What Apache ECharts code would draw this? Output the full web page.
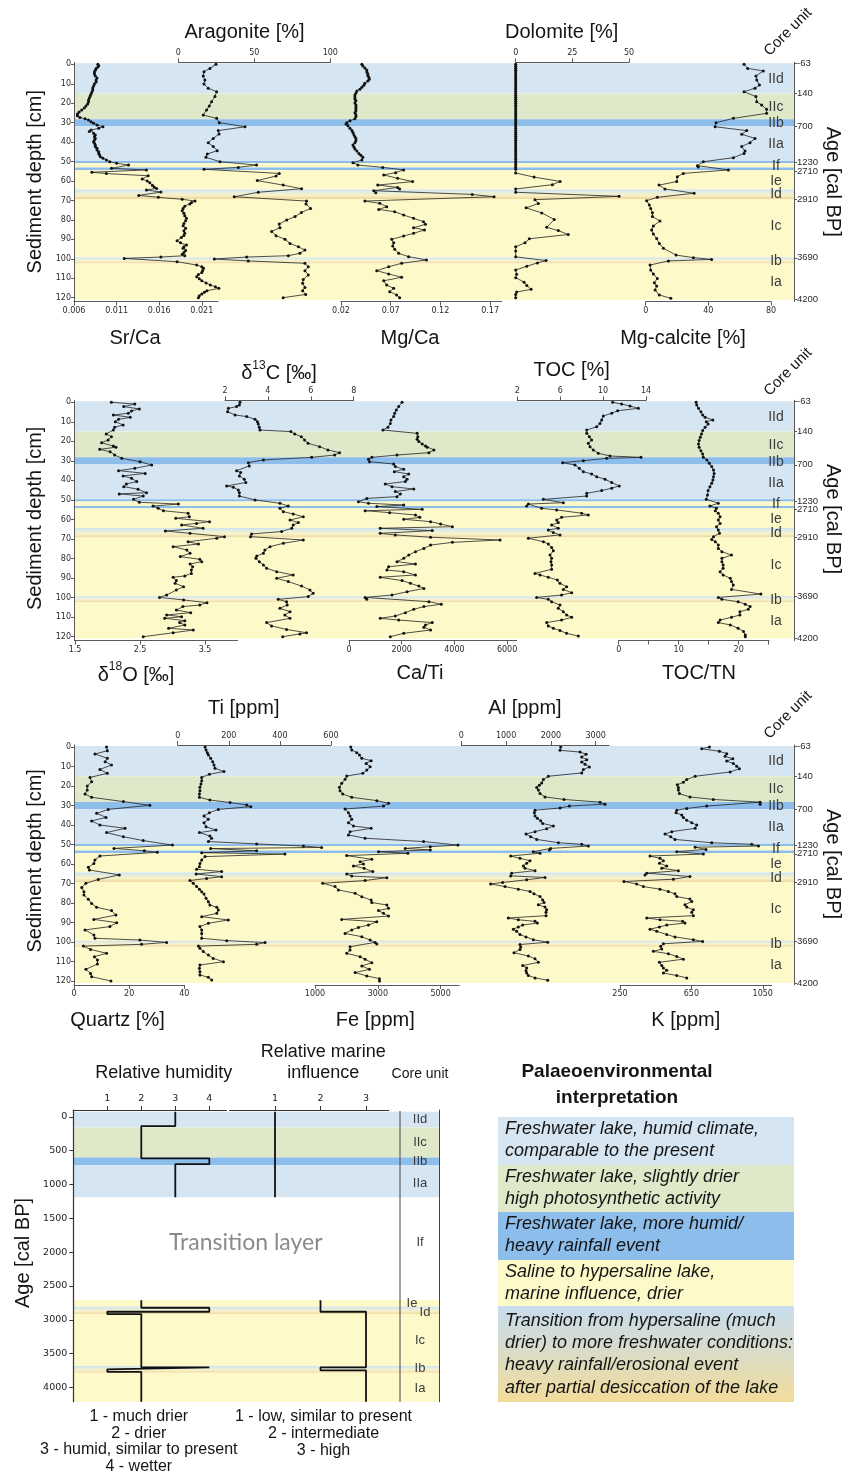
<!DOCTYPE html>
<html>
<head>
<meta charset="utf-8">
<script src="https://cdn.jsdelivr.net/npm/echarts@6/dist/echarts.min.js"></script>
<style>
  html, body { margin: 0; padding: 0; background: #fff; }
  #chart { width: 847px; height: 1475px; }
</style>
</head>
<body>
<div id="chart"></div>
<script>
// ---------- core profile data: [depth (cm), value] ----------
const srCa = [[0,0.0088],[0.7,0.0089],[1.4,0.0088],[2.2,0.0086],[3.1,0.0085],[3.9,0.0084],[5.0,0.0084],[6.0,0.0085],[7.0,0.0087],[8.1,0.0086],[9.1,0.0086],[10.1,0.0084],[11.2,0.0083],[12.2,0.0082],[13.2,0.0082],[14.2,0.0081],[15.3,0.0080],[16.3,0.0079],[17.3,0.0078],[18.3,0.0077],[19.4,0.0077],[20.4,0.0076],[21.4,0.0074],[22.5,0.0072],[23.5,0.0069],[24.5,0.0066],[25.5,0.0064],[26.4,0.0064],[27.3,0.0067],[28.0,0.0073],[28.6,0.0077],[29.5,0.0080],[30.3,0.0083],[31.2,0.0087],[32.1,0.0094],[32.9,0.0089],[33.8,0.0080],[34.6,0.0078],[35.5,0.0083],[36.3,0.0085],[37.2,0.0084],[38.1,0.0085],[38.9,0.0084],[39.8,0.0083],[40.6,0.0084],[41.5,0.0085],[42.3,0.0085],[43.2,0.0087],[44.1,0.0087],[44.9,0.0089],[45.8,0.0089],[46.6,0.0090],[47.5,0.0091],[48.3,0.0094],[49.2,0.0098],[50.1,0.0102],[50.9,0.0110],[51.8,0.0124],[53.5,0.0104],[54.3,0.0145],[55.5,0.0081],[56.2,0.0098],[57.3,0.0147],[59.0,0.0140],[60.0,0.0146],[60.9,0.0149],[62.2,0.0152],[63.1,0.0154],[63.8,0.0157],[64.6,0.0145],[65.7,0.0162],[67.4,0.0136],[68.4,0.0159],[69.4,0.0187],[70.3,0.0202],[71.0,0.0198],[71.8,0.0196],[73.0,0.0190],[74.1,0.0188],[75.3,0.0187],[76.6,0.0189],[77.9,0.0190],[79.2,0.0192],[80.5,0.0191],[81.8,0.0189],[83.0,0.0188],[84.3,0.0191],[85.6,0.0189],[86.9,0.0190],[88.0,0.0189],[89.0,0.0186],[90.7,0.0181],[91.8,0.0185],[92.9,0.0192],[93.8,0.0189],[94.6,0.0188],[95.7,0.0191],[96.7,0.0189],[97.6,0.0187],[98.4,0.0190],[99.1,0.0162],[99.8,0.0119],[101.5,0.0181],[103.2,0.0204],[104.1,0.0210],[104.9,0.0212],[106.0,0.0211],[107.1,0.0210],[108.1,0.0206],[109.2,0.0204],[110.2,0.0207],[111.3,0.0210],[112.4,0.0215],[113.5,0.0220],[114.4,0.0226],[115.2,0.0230],[116.4,0.0216],[117.2,0.0213],[118.1,0.0210],[119.0,0.0207],[120,0.0206]];

const aragonite = [[0,24.8],[2.1,20.8],[3.8,16.9],[6.0,16.4],[8.1,17.5],[10.1,16.9],[12.3,19.7],[14.1,25.2],[16.6,24.1],[19.2,21.9],[21.4,20.4],[23.5,18.6],[26.1,16.4],[27.8,25.2],[30.0,27.0],[32.1,43.9],[34.1,26.3],[35.8,26.8],[38.1,23.0],[40.3,19.7],[42.3,23.0],[44.4,25.6],[46.1,19.1],[47.8,18.2],[50.1,27.4],[51.8,51.5],[53.0,39.5],[54.0,16.9],[56.1,66.4],[57.4,64.3],[59.8,52.0],[62.1,69.0],[64.0,81.1],[65.8,52.6],[68.1,36.8],[70.3,84.4],[71.8,84.0],[74.1,87.0],[76.2,81.0],[78.3,76.8],[80.1,71.3],[82.1,66.4],[84.0,66.9],[85.9,61.4],[88.1,64.3],[90.0,70.2],[92.1,73.5],[93.8,79.0],[95.5,83.3],[97.2,80.0],[98.4,72.4],[99.1,45.0],[100.1,23.7],[101.1,46.0],[102.3,83.3],[104.1,85.5],[106.1,83.3],[108.3,85.5],[110.6,82.2],[112.6,81.8],[114.7,83.3],[116.4,81.8],[118.3,83.8],[120,69.0]];

const mgCa = [[0,0.041],[0.9,0.042],[1.9,0.044],[2.9,0.046],[3.9,0.046],[4.8,0.047],[5.8,0.047],[6.7,0.048],[7.7,0.0485],[8.6,0.047],[9.8,0.044],[10.8,0.043],[11.8,0.041],[12.8,0.039],[13.7,0.036],[14.7,0.035],[15.8,0.034],[16.8,0.034],[17.8,0.034],[18.8,0.035],[19.9,0.034],[20.9,0.035],[21.9,0.035],[22.9,0.035],[23.9,0.035],[24.9,0.034],[25.9,0.035],[26.9,0.035],[28.0,0.034],[29.0,0.029],[30.0,0.026],[30.7,0.025],[31.6,0.027],[32.9,0.029],[34.0,0.031],[35.1,0.032],[36.2,0.033],[37.2,0.034],[38.2,0.035],[39.3,0.035],[40.3,0.034],[41.5,0.032],[42.5,0.033],[43.5,0.034],[44.6,0.036],[45.8,0.038],[46.8,0.040],[47.8,0.042],[49.2,0.041],[50.6,0.032],[51.8,0.037],[53.0,0.062],[54.3,0.083],[55.7,0.075],[56.9,0.063],[58.6,0.077],[60.3,0.092],[62.1,0.057],[63.3,0.077],[64.1,0.079],[65.0,0.053],[66.0,0.055],[66.9,0.152],[68.1,0.174],[70.3,0.044],[71.5,0.059],[73.2,0.066],[74.6,0.058],[75.8,0.074],[77.5,0.083],[79.2,0.093],[80.9,0.103],[82.3,0.105],[84.0,0.093],[85.2,0.104],[86.9,0.093],[88.3,0.083],[90.0,0.071],[91.7,0.073],[93.4,0.072],[95.1,0.074],[97.2,0.078],[98.9,0.088],[100.6,0.106],[102.3,0.081],[104.1,0.068],[106.1,0.056],[107.8,0.068],[109.5,0.081],[111.3,0.063],[113.5,0.066],[115.2,0.073],[116.9,0.069],[118.6,0.076],[120,0.079]];

const dolomite = [[0,0],[1,0],[2,0],[3,0],[4,0],[5,0],[6,0],[7,0],[8,0],[9,0],[10,0],[11,0],[12,0],[13,0],[14,0],[15,0],[16,0],[17,0],[18,0],[19,0],[20,0],[21,0],[22,0],[23,0],[24,0],[25,0],[26,0],[27,0],[28,0],[29,0],[30,0],[31,0],[32,0],[33,0],[34,0],[35,0],[36,0],[37,0],[38,0],[39,0],[40,0],[41,0],[42,0],[43,0],[44,0],[45,0],[46,0],[47,0],[48,0],[49,0],[50,0],[51,0],[52,0],[53,0],[54,0],[55.9,0],[58.0,8.1],[60.2,19.6],[61.9,16.2],[64.1,0],[65.8,0],[67.9,45.6],[69.6,8.5],[71.6,10.0],[73.8,4.6],[76.4,11.5],[79.8,17.0],[83.8,13.7],[85.5,18.8],[87.5,23.2],[89.7,6.0],[91.8,4.1],[93.8,0],[96.0,0],[99.0,0],[100.9,13.4],[102.1,9.6],[103.8,4.9],[105.8,0],[108.0,0.4],[109.7,0],[112.0,3.7],[113.7,4.9],[115.7,6.8],[117.1,0.4],[118.3,0],[120,0]];

const mgCalcite = [[0,62.8],[2.1,65.1],[3.4,75.1],[6.0,70.4],[8.1,70.9],[10.6,72.6],[12.3,69.8],[14.1,62.8],[16.6,70.4],[19.2,70.9],[20.9,74.0],[23.1,77.2],[25.2,77.2],[27.8,56.0],[30.0,44.9],[32.1,44.3],[34.1,64.5],[36.0,61.3],[38.1,69.8],[40.3,66.6],[42.3,61.3],[44.6,63.4],[45.8,62.8],[48.0,56.0],[50.1,36.8],[52.1,33.0],[52.8,33.6],[54.3,52.8],[56.1,24.0],[57.8,20.2],[60.3,19.8],[62.1,8.5],[64.1,12.3],[66.3,30.9],[68.4,7.4],[70.1,0.6],[72.3,2.3],[74.1,3.2],[76.3,4.3],[78.3,4.3],[80.6,9.1],[83.1,4.9],[85.2,3.8],[87.3,4.9],[89.5,7.0],[92.1,8.7],[94.6,11.3],[98.1,19.4],[99.4,30.4],[100.3,42.1],[101.1,14.5],[103.2,2.8],[105.8,3.2],[107.8,4.9],[110.1,7.4],[112.3,5.5],[114.0,7.0],[116.0,6.0],[118.6,8.7],[120.3,16.0]];

const d18O = [[0,2.06],[0.9,2.42],[2.2,2.25],[3.4,2.49],[4.4,2.37],[5.6,2.32],[6.5,2.09],[7.7,2.35],[8.7,2.17],[9.9,2.12],[11.6,2.24],[12.8,2.11],[14.2,2.09],[16.2,1.98],[17.6,2.06],[19.3,2.01],[20.7,1.91],[22.4,2.09],[23.0,2.13],[24.1,1.88],[25.3,2.04],[27.0,2.11],[28.7,2.22],[30.4,2.50],[32.1,2.68],[33.8,2.42],[35.0,2.17],[36.4,2.58],[37.7,2.24],[38.9,2.37],[40.6,2.45],[41.8,2.29],[43.2,2.25],[44.5,2.47],[46.3,2.60],[46.9,2.18],[48.0,2.55],[49.7,2.40],[51.2,2.49],[52.1,3.09],[53.1,2.70],[54.3,2.78],[55.5,2.86],[56.8,3.24],[58.6,3.26],[59.4,3.05],[61.1,3.57],[62.0,3.37],[62.8,3.14],[64.5,3.47],[65.9,2.89],[67.1,3.27],[68.8,3.80],[69.6,3.68],[71.4,3.24],[72.6,3.40],[73.9,3.01],[75.6,3.22],[77.3,3.27],[79.0,3.12],[80.4,3.42],[81.6,3.45],[82.8,3.27],[84.2,3.31],[85.9,3.29],[87.6,3.29],[88.9,3.19],[89.6,3.01],[91.3,3.06],[92.7,3.04],[94.4,3.17],[96.1,3.06],[98.7,2.91],[99.9,2.80],[101.2,3.17],[102.6,3.53],[103.8,3.42],[104.6,3.16],[106.4,3.06],[107.7,3.28],[108.9,2.91],[109.8,3.14],[110.6,2.88],[111.8,3.19],[112.8,3.11],[114.0,3.19],[115.7,2.94],[116.6,3.32],[118.0,3.01],[120.0,2.55]];

const d13C = [[0,2.70],[1.4,2.67],[2.2,2.54],[3.1,2.16],[4.8,2.12],[6.5,2.47],[7.3,3.01],[8.7,3.40],[9.9,3.51],[11.1,3.55],[12.8,3.60],[14.2,3.63],[15.0,5.07],[16.2,5.25],[17.6,5.56],[19.3,5.71],[21.0,5.87],[22.7,6.41],[24.4,6.80],[25.8,7.34],[27.0,7.11],[28.2,6.04],[29.5,3.79],[30.9,3.09],[32.6,3.13],[35.0,2.54],[36.0,2.73],[37.7,2.67],[39.4,2.90],[41.1,2.97],[42.8,2.08],[43.5,2.39],[44.9,2.62],[46.3,2.67],[48.0,2.67],[50.0,3.40],[51.7,4.56],[53.1,4.95],[54.3,4.56],[56.0,4.72],[57.2,5.18],[58.6,5.65],[60.3,5.03],[61.6,5.42],[62.8,5.18],[64.5,5.11],[66.2,4.64],[67.4,3.24],[68.8,3.19],[70.5,5.65],[72.2,4.72],[73.9,4.10],[75.6,3.86],[77.3,3.79],[78.7,3.48],[79.9,3.44],[81.6,3.60],[83.3,3.79],[85.0,3.94],[86.7,4.41],[88.4,5.18],[90.1,4.41],[91.8,4.95],[94.1,5.57],[96.1,5.96],[97.8,6.11],[99.5,5.88],[100.9,4.48],[102.1,4.87],[103.8,4.90],[105.5,4.56],[107.2,5.03],[108.9,4.79],[110.6,5.03],[112.8,3.94],[114.5,4.17],[116.3,4.87],[118.0,5.80],[118.6,5.49],[120.0,4.69]];

const caTi = [[0,2013],[2.2,1885],[3.9,1796],[5.6,1732],[7.3,1694],[9.0,1592],[10.8,1567],[12.8,1478],[14.2,1287],[15.9,2586],[17.6,2611],[18.9,2586],[20.1,2650],[21.3,2777],[22.4,2904],[23.0,2968],[24.4,3223],[25.8,3032],[27.0,1822],[28.2,866],[29.2,739],[30.4,777],[31.6,1694],[32.9,1758],[34.3,2076],[35.5,1720],[36.7,2268],[38.1,2076],[39.4,2204],[40.6,2140],[41.8,1376],[43.2,1631],[44.4,2459],[45.7,1758],[46.9,1949],[48.3,1822],[49.2,675],[50.9,357],[51.7,739],[52.6,2076],[53.4,1057],[54.8,2777],[55.5,611],[56.5,1541],[57.7,2522],[58.9,2688],[59.9,2076],[61.1,3095],[62.3,3478],[63.7,3924],[64.5,1185],[65.7,3160],[67.1,1185],[67.9,1758],[69.1,3095],[70.5,5732],[71.7,3924],[73.1,3095],[74.8,2841],[76.5,2522],[78.2,2268],[79.9,2076],[81.6,1822],[82.8,2522],[84.2,1503],[85.9,1439],[86.7,2076],[88.4,2522],[89.6,1185],[91.3,2013],[92.7,2331],[94.1,2650],[95.3,2841],[97.0,2204],[98.7,1631],[99.9,611],[100.9,675],[102.1,3032],[103.4,3500],[104.6,2841],[106.0,2459],[107.7,2140],[109.4,1758],[110.6,1185],[111.5,1885],[112.8,3160],[114.0,2904],[115.2,2841],[116.6,3095],[118.3,2076],[120.0,1567]];

const toc = [[0,10.89],[0.9,11.73],[1.9,12.51],[3.1,13.29],[4.3,11.36],[5.6,10.80],[7.0,10.02],[9.0,9.87],[10.8,9.71],[12.5,9.40],[14.2,8.47],[15.9,8.47],[17.6,8.72],[19.3,8.93],[21.0,8.62],[22.7,8.78],[24.4,9.09],[26.1,9.55],[27.5,10.64],[28.2,13.53],[28.7,10.33],[29.9,8.16],[30.9,6.23],[32.1,7.38],[33.8,7.78],[35.5,8.16],[36.7,8.93],[38.1,9.40],[39.4,10.18],[41.1,10.80],[42.8,11.51],[44.0,10.80],[45.2,9.87],[46.6,8.47],[48.0,8.47],[49.7,4.43],[51.4,6.29],[52.1,3.03],[53.1,2.87],[54.3,4.27],[55.1,5.67],[56.8,8.00],[57.7,8.62],[58.9,6.13],[60.3,5.67],[61.6,5.82],[62.8,5.20],[64.5,5.82],[65.4,4.89],[66.7,5.36],[67.9,5.98],[69.6,3.03],[71.4,4.43],[72.6,4.89],[74.3,5.20],[76.0,5.36],[78.2,5.05],[79.9,5.20],[81.6,5.14],[83.3,5.20],[85.5,5.20],[87.6,3.65],[88.4,4.12],[89.6,4.89],[91.0,5.73],[92.7,5.98],[94.4,6.60],[95.8,6.29],[97.5,7.07],[98.7,6.13],[99.9,3.80],[100.9,4.89],[102.1,5.20],[103.8,5.98],[105.5,5.82],[107.2,6.29],[108.9,6.60],[110.1,7.07],[111.5,6.13],[112.8,4.74],[114.5,4.89],[115.7,5.36],[116.9,5.98],[118.3,6.60],[119.7,7.69]];

const tocTn = [[0,12.9],[1.4,13.0],[3.1,13.3],[4.8,13.7],[6.5,14.0],[7.7,14.4],[9.0,15.7],[9.9,14.6],[11.1,14.9],[12.8,14.4],[14.5,14.0],[16.2,13.8],[17.9,13.6],[19.6,13.4],[21.3,13.3],[23.0,13.4],[24.8,13.7],[26.5,14.0],[28.2,14.1],[29.5,14.7],[31.2,15.1],[32.9,15.5],[34.7,15.8],[36.4,15.9],[38.1,15.8],[39.8,15.7],[41.5,15.5],[43.2,15.2],[45.2,14.9],[47.5,14.8],[49.7,14.6],[51.7,16.6],[53.1,15.2],[54.3,16.3],[55.5,16.1],[56.8,16.6],[58.6,16.9],[60.3,16.6],[62.0,16.9],[63.7,16.3],[65.4,16.6],[67.1,16.8],[68.8,15.8],[70.2,15.5],[71.4,16.1],[73.1,16.6],[74.8,16.6],[76.5,17.2],[78.2,18.8],[79.9,17.2],[81.6,17.2],[83.3,17.4],[85.0,17.4],[86.7,16.9],[88.4,17.4],[90.1,18.6],[91.8,18.8],[93.6,19.1],[95.8,18.8],[98.2,23.7],[99.9,16.6],[100.9,17.2],[102.1,19.9],[103.4,21.1],[104.6,21.9],[106.0,21.6],[107.2,20.2],[108.9,20.2],[110.1,18.8],[111.5,16.9],[112.8,16.6],[114.0,18.6],[115.7,19.9],[117.4,20.8],[119.1,21.1],[120.0,21.1]];

const quartz = [[0,11.8],[1.9,12.1],[3.6,7.6],[5.8,12.1],[7.5,11.3],[9.2,13.6],[11.5,9.4],[13.5,12.1],[15.6,5.8],[17.8,6.4],[20.0,4.8],[22.1,4.8],[24.1,4.0],[25.8,6.4],[28.0,17.9],[29.9,27.5],[32.0,12.4],[34.0,8.2],[36.1,11.6],[37.9,6.4],[40.0,9.4],[41.7,18.5],[43.9,11.8],[46.0,17.9],[48.0,25.1],[50.3,35.7],[52.0,14.5],[53.2,25.5],[54.0,30.2],[55.9,9.4],[57.9,7.6],[59.7,7.2],[61.7,5.2],[63.1,5.6],[65.6,16.4],[67.9,8.8],[69.9,4.3],[72.0,2.8],[74.2,3.6],[75.9,3.6],[78.1,5.2],[80.2,6.4],[82.2,8.2],[83.9,13.6],[86.2,15.2],[88.4,7.2],[90.1,15.5],[92.1,13.0],[93.8,4.0],[96.4,7.2],[98.1,7.6],[99.0,23.9],[100.2,33.6],[101.2,24.5],[102.1,3.4],[103.8,6.0],[105.8,11.8],[107.5,7.4],[109.2,8.5],[111.3,8.5],[114.0,4.3],[116.1,6.0],[117.8,6.4],[120.0,13.4]];

const ti = [[0,107],[1.5,111],[2.9,116],[4.1,120],[5.8,129],[7.5,137],[9.2,142],[10.9,146],[12.6,181],[14.0,124],[15.6,94],[17.3,94],[19.0,91],[20.7,87],[22.4,87],[24.1,85],[25.8,85],[27.2,126],[28.5,205],[29.7,270],[30.6,286],[32.0,159],[33.7,124],[35.4,103],[37.1,120],[38.8,103],[40.9,111],[42.6,150],[43.9,85],[45.6,126],[46.8,133],[48.5,120],[49.7,309],[50.8,492],[51.5,563],[52.1,129],[53.2,309],[54.2,94],[54.9,420],[56.2,107],[57.9,94],[59.7,87],[61.4,85],[62.7,74],[63.9,172],[65.1,72],[66.5,172],[67.4,113],[68.5,48],[69.9,61],[71.6,74],[73.0,85],[74.2,94],[75.4,103],[77.6,111],[79.3,120],[81.0,126],[82.2,153],[83.6,159],[85.3,153],[87.0,94],[88.7,198],[90.4,120],[92.1,87],[93.8,94],[95.6,94],[98.1,94],[99.3,192],[100.3,342],[101.2,309],[102.1,81],[103.2,87],[104.9,100],[106.7,120],[108.4,139],[110.1,179],[111.8,87],[113.5,85],[115.2,87],[116.9,87],[118.1,120],[119.5,133]];

const fe = [[0,2138],[1.5,2170],[2.9,2330],[4.1,2415],[5.8,2490],[7.0,2787],[8.4,2628],[10.1,2755],[11.8,2649],[13.5,2521],[14.9,2011],[16.6,1958],[18.6,1851],[20.7,1777],[22.4,1798],[24.1,1883],[25.8,2170],[27.5,2968],[28.9,3341],[30.3,3181],[31.8,1958],[33.7,2064],[35.4,2117],[37.1,2170],[38.8,2064],[40.5,2224],[41.7,2787],[43.4,2117],[45.1,2064],[46.8,2596],[48.5,4458],[50.3,5554],[51.1,4671],[52.0,3873],[52.8,4671],[53.7,3022],[54.5,3958],[55.7,2011],[57.6,2809],[58.8,2436],[60.0,2543],[61.0,2224],[62.2,2564],[63.9,2841],[65.1,2011],[66.2,2170],[67.0,3288],[68.5,2596],[69.9,1245],[71.6,1638],[73.3,1745],[75.0,2277],[76.8,2490],[78.5,2787],[79.8,2809],[81.0,3288],[82.7,3341],[83.9,3022],[85.3,3181],[86.7,3341],[88.4,1851],[89.6,2968],[91.3,2702],[92.5,2383],[93.8,2170],[95.6,1958],[97.3,2490],[99.0,2755],[100.2,2915],[101.0,2968],[102.4,2117],[104.1,2117],[105.8,2011],[107.5,2436],[108.9,2596],[110.6,2809],[112.3,2490],[114.0,2734],[115.7,2277],[117.4,2649],[118.8,3053],[120.0,3053]];

const al = [[0,2219],[1.7,2204],[2.6,2651],[3.7,2785],[5.1,2688],[6.5,2800],[7.7,2688],[8.9,2762],[10.2,2859],[11.6,2725],[13.3,2688],[15.0,1943],[16.7,1832],[18.4,1795],[19.6,1742],[20.8,1683],[22.1,1720],[23.9,1757],[25.6,1869],[26.9,2293],[28.3,3098],[29.3,3209],[30.3,2413],[31.3,2204],[32.4,1646],[33.7,1631],[35.4,1646],[36.6,1698],[37.8,1772],[39.2,1817],[40.5,2055],[41.9,1906],[43.4,1646],[44.6,1444],[46.0,1549],[47.4,1683],[49.1,2167],[49.9,2688],[50.8,2837],[52.0,1996],[52.8,1966],[53.7,1608],[54.5,1757],[55.9,1102],[57.1,1311],[58.3,1534],[59.6,1459],[61.0,1385],[62.2,1422],[63.4,1646],[64.7,1124],[66.1,1102],[66.9,1869],[68.1,1459],[69.5,923],[70.2,655],[71.6,975],[72.9,1273],[74.1,1534],[75.3,1623],[76.7,1757],[78.4,1817],[79.7,1847],[80.9,1720],[82.1,1869],[83.5,1906],[84.8,1891],[86.5,1891],[87.7,1050],[88.6,1273],[89.4,1646],[90.3,1698],[91.3,1370],[92.3,1273],[93.4,1162],[94.5,1236],[96.2,1311],[97.4,1444],[98.8,1608],[100.1,1929],[101.3,1311],[102.5,1325],[103.8,1311],[105.5,1176],[107.2,1497],[108.6,1646],[110.4,1720],[112.1,1370],[113.3,1459],[114.7,1444],[115.9,1459],[117.2,1497],[118.4,1646],[119.6,1929]];

const k = [[0,751],[0.9,708],[2.2,807],[3.4,848],[4.8,839],[6.0,882],[7.2,848],[8.5,885],[9.9,904],[11.2,919],[12.8,867],[15.0,671],[16.7,624],[18.1,605],[19.4,571],[20.8,577],[22.1,577],[23.9,583],[25.6,642],[26.9,773],[28.3,1035],[29.3,1035],[30.3,736],[31.5,624],[32.4,568],[33.7,564],[34.9,596],[36.1,605],[37.5,624],[38.8,652],[40.0,680],[41.7,671],[43.4,540],[44.6,502],[46.0,534],[47.4,558],[49.1,764],[49.9,988],[50.8,1026],[51.4,671],[52.5,732],[53.7,568],[54.9,717],[55.9,418],[57.1,474],[58.3,493],[59.6,471],[61.0,512],[62.2,484],[63.4,577],[64.7,400],[65.6,390],[66.4,642],[67.8,549],[69.0,272],[70.2,343],[71.6,381],[72.9,474],[74.1,521],[75.3,558],[76.7,568],[78.0,642],[79.2,652],[80.9,614],[82.1,624],[83.5,661],[84.8,652],[86.5,661],[87.7,400],[88.6,474],[89.4,601],[90.3,614],[91.3,512],[92.3,471],[93.4,418],[94.5,456],[96.2,512],[97.4,558],[98.8,661],[99.7,713],[100.9,493],[102.2,478],[103.6,484],[104.8,437],[106.0,521],[107.4,568],[108.8,605],[110.4,471],[112.1,484],[113.3,493],[114.5,512],[115.9,493],[117.2,568],[118.4,624]];

// ---------- zonation ----------
const bandTop    = [-0.5, 15.0, 28.2, 31.8, 49.7, 50.8, 53.1, 54.3, 64.4, 69.2, 99.3, 102.4];
const bandBottom = [15.0, 28.2, 31.8, 49.7, 50.8, 53.1, 54.3, 64.4, 69.2, 99.3, 102.4, 121.0];
const bandKind   = ['fresh','dry','wet','fresh','wet','saline','wet','saline','transition','saline','transition','saline'];

const unitNames  = ['IId','IIc','IIb','IIa','If','Ie','Id','Ic','Ib','Ia'];
const unitDepths = [7.5, 21.8, 30.5, 41.2, 52.2, 60.0, 67.0, 83.2, 101.3, 111.8];
const unitAges   = [38, 374, 665, 979, 1861, 2756, 2889, 3309, 3716, 4012];

const ageTickDepth = [-0.5, 15, 32, 50.5, 54.8, 69.3, 99.5, 121];
const ageTickLabel = ['-63', '140', '700', '1230', '2710', '2910', '3690', '4200'];
const depthTicks = [0,10,20,30,40,50,60,70,80,90,100,110,120];

// age-domain zonation (cal BP)
const ageBandTop    = [-75, 157, 600, 714, 2708, 2806, 2915, 3683, 3781];
const ageBandBottom = [157, 600, 714, 1190, 2806, 2915, 3683, 3781, 4210];
const ageBandKind   = ['fresh','dry','wet','fresh','saline','transition','saline','transition','saline'];
const ageTicks = [0,500,1000,1500,2000,2500,3000,3500,4000];

// step reconstructions: [from age, to age, class]
const humidityUpper = [[-75,137,3],[137,614,2],[614,700,4],[700,1190,3]];
const humidityLower = [[2710,2821,2],[2821,2880,4],[2880,2914,1],[2914,3702,2],[3702,3731,4],[3731,3767,1],[3767,4210,2]];
const marineUpper = [[-75,1190,1]];
const marineLower = [[2710,2880,2],[2880,3702,3],[3702,3745,2],[3745,4210,3]];

const humidityScale = ['1 - much drier','2 - drier','3 - humid, similar to present','4 - wetter'];
const marineScale = ['1 - low, similar to present','2 - intermediate','3 - high'];

const legendKind = ['fresh','dry','wet','saline','transition'];
const legendText = [
  ['Freshwater lake, humid climate,','comparable to the present'],
  ['Freshwater lake, slightly drier','high photosynthetic activity'],
  ['Freshwater lake, more humid/','heavy rainfall event'],
  ['Saline to hypersaline lake,','marine influence, drier'],
  ['Transition from hypersaline (much','drier) to more freshwater conditions:','heavy rainfall/erosional event','after partial desiccation of the lake']
];

// ---------- styling ----------
const SANS = "'Liberation Sans', Arial, sans-serif";
const TICK = "'DejaVu Sans', sans-serif";
const AXIS_COLOR = '#5a5a5a';
const G = echarts.graphic;
const fills = {
  fresh: '#d5e5f2',
  dry: '#dfe9c9',
  wet: '#8dbdeb',
  saline: '#fdf9c9',
  transition: new G.LinearGradient(0, 0, 0, 1, [
    {offset: 0, color: '#cde1f1'}, {offset: 0.3, color: '#e6eedc'},
    {offset: 0.6, color: '#f9f2cb'}, {offset: 1, color: '#eed79b'}])
};
const legendTransition = new G.LinearGradient(0, 0, 0, 1, [
  {offset: 0, color: '#c8dcee'}, {offset: 0.5, color: '#dadcc6'}, {offset: 1, color: '#f3dc9a'}]);

const grids = [], xAxes = [], yAxes = [], series = [], graphic = [];

function text(x, y, str, size, o = {}) {
  graphic.push({
    type: 'text', x, y, rotation: o.rot || 0, z: 100, silent: true,
    style: {
      text: str,
      font: `${o.italic ? 'italic ' : ''}${o.bold ? 'bold ' : ''}${size}px ${o.family || SANS}`,
      fill: o.color || '#151515', align: o.align || 'center', verticalAlign: 'middle'
    }
  });
}

function supText(x, y, pre, sup, post) {
  graphic.push({
    type: 'text', x, y, z: 100, silent: true,
    style: {
      text: `{a|${pre}}{b|${sup}}{a|${post}}`,
      align: 'center', verticalAlign: 'middle',
      rich: {
        a: {font: `20px ${SANS}`, fill: '#151515', lineHeight: 24, verticalAlign: 'bottom'},
        b: {font: `12px ${SANS}`, fill: '#151515', lineHeight: 24, verticalAlign: 'top'}
      }
    }
  });
}

function fmtTick(v, dec) { return dec ? v.toFixed(dec) : String(v); }

function addBands(gi, xi, yi, tops, bottoms, kinds) {
  series.push({
    type: 'custom', xAxisIndex: xi, yAxisIndex: yi, silent: true, clip: false, z: 1,
    data: tops.map((t, i) => [0, t, bottoms[i], i]),
    encode: {x: 0, y: [1, 2]},
    renderItem: (params, api) => {
      const a = api.coord([0, api.value(1)]);
      const b = api.coord([1, api.value(2)]);
      return {type: 'rect', shape: {x: a[0], y: a[1], width: b[0] - a[0], height: b[1] - a[1]},
              style: {fill: fills[kinds[api.value(3)]]}};
    }
  });
}

function addUnitLabels(xi, yi, positions, xFrac, size, shifts) {
  series.push({
    type: 'custom', xAxisIndex: xi, yAxisIndex: yi, silent: true, clip: false, z: 6,
    data: positions.map((p, i) => [xFrac, p, i]),
    encode: {x: 0, y: 1},
    renderItem: (params, api) => {
      const i = api.value(2);
      const p = api.coord([api.value(0), api.value(1)]);
      return {type: 'text', x: p[0] + ((shifts && shifts[unitNames[i]]) || 0), y: p[1],
              style: {text: unitNames[i], font: `${size}px ${SANS}`, fill: '#3c3c3c', align: 'center', verticalAlign: 'middle'}};
    }
  });
}

// ---------- depth panels ----------
const panels = [
  { y0: 64.3, s: 1.945, curves: [
    {data: srCa, left: 74, right: 218, min: 0.006, max: 0.0229, pos: 'bottom', ticks: [0.006,0.011,0.016,0.021], dec: 3},
    {data: aragonite, left: 178.3, right: 330.3, min: 0, max: 100, pos: 'top', ticks: [0,50,100]},
    {data: mgCa, left: 341, right: 501.7, min: 0.02, max: 0.1817, pos: 'bottom', ticks: [0.02,0.07,0.12,0.17], dec: 2},
    {data: dolomite, left: 515.7, right: 629, min: 0, max: 50, pos: 'top', ticks: [0,25,50]},
    {data: mgCalcite, left: 645.7, right: 771, min: 0, max: 80, pos: 'bottom', ticks: [0,40,80]}
  ]},
  { y0: 402.3, s: 1.953, curves: [
    {data: d18O, left: 75, right: 237.5, min: 1.5, max: 4.0, pos: 'bottom', ticks: [1.5,2.5,3.5], dec: 1},
    {data: d13C, left: 225, right: 353.7, min: 2, max: 8, pos: 'top', ticks: [2,4,6,8]},
    {data: caTi, left: 349, right: 516.7, min: 0, max: 6364, pos: 'bottom', ticks: [0,2000,4000,6000]},
    {data: toc, left: 517.3, right: 646, min: 2, max: 14, pos: 'top', ticks: [2,6,10,14]},
    {data: tocTn, left: 618.7, right: 769, min: 0, max: 25.05, pos: 'bottom', ticks: [0,5,10,15,20,25], labels: [0,10,20]}
  ]},
  { y0: 747, s: 1.95, curves: [
    {data: quartz, left: 74, right: 184.3, min: 0, max: 40, pos: 'bottom', ticks: [0,20,40]},
    {data: ti, left: 177.7, right: 331, min: 0, max: 600, pos: 'top', ticks: [0,200,400,600]},
    {data: fe, left: 315, right: 459.3, min: 1000, max: 5595, pos: 'bottom', ticks: [1000,3000,5000]},
    {data: al, left: 461.3, right: 609, min: 0, max: 3297, pos: 'top', ticks: [0,1000,2000,3000]},
    {data: k, left: 620, right: 771.7, min: 250, max: 1100, pos: 'bottom', ticks: [250,650,1050]}
  ]}
];

panels.forEach(p => {
  const top = p.y0 - p.s, height = 123 * p.s;
  // background zones + depth / age axes
  const gi = grids.length;
  grids.push({left: 74, top, width: 720, height});
  const xi = xAxes.length;
  xAxes.push({gridIndex: gi, type: 'value', min: 0, max: 1, show: false});
  const yi = yAxes.length;
  yAxes.push({
    gridIndex: gi, type: 'value', inverse: true, min: -1, max: 122, position: 'left', z: 10,
    axisLine: {show: true, lineStyle: {color: AXIS_COLOR, width: 1}},
    axisTick: {show: true, length: 3, customValues: depthTicks, lineStyle: {color: AXIS_COLOR}},
    axisLabel: {customValues: depthTicks, fontSize: 8, fontFamily: TICK, color: '#2a2a2a', margin: 3,
                formatter: v => String(v)},
    splitLine: {show: false}
  });
  yAxes.push({
    gridIndex: gi, type: 'value', inverse: true, min: -1, max: 122, position: 'right', z: 10,
    axisLine: {show: true, lineStyle: {color: AXIS_COLOR, width: 1}},
    axisTick: {show: true, length: 3, customValues: ageTickDepth, lineStyle: {color: AXIS_COLOR}},
    axisLabel: {
      customValues: ageTickDepth, fontSize: 9.5, fontFamily: SANS, color: '#2a2a2a', margin: 3,
      formatter: v => {
        let best = 0;
        ageTickDepth.forEach((d, i) => { if (Math.abs(d - v) < Math.abs(ageTickDepth[best] - v)) best = i; });
        return ageTickLabel[best];
      }
    },
    splitLine: {show: false}
  });
  addBands(gi, xi, yi, bandTop, bandBottom, bandKind);
  addUnitLabels(xi, yi, unitDepths, (776 - 74) / 720, 14);

  // one grid per proxy, sharing the depth scale
  p.curves.forEach(c => {
    const g = grids.length;
    grids.push({left: c.left, top, width: c.right - c.left, height});
    const cx = xAxes.length;
    xAxes.push({
      gridIndex: g, type: 'value', min: c.min, max: c.max, position: c.pos, z: 10,
      axisLine: {show: true, onZero: false, lineStyle: {color: AXIS_COLOR, width: 1}},
      axisTick: {show: true, length: 4, customValues: c.ticks, lineStyle: {color: AXIS_COLOR}},
      axisLabel: {customValues: c.labels || c.ticks, fontSize: 8, fontFamily: TICK, color: '#2a2a2a', margin: 5,
                  formatter: v => fmtTick(v, c.dec)},
      splitLine: {show: false}
    });
    const cy = yAxes.length;
    yAxes.push({gridIndex: g, type: 'value', inverse: true, min: -1, max: 122, show: false});
    series.push({
      type: 'line', xAxisIndex: cx, yAxisIndex: cy, z: 4, silent: true, clip: false,
      data: c.data.map(([d, v]) => [v, d]),
      symbol: 'circle', symbolSize: 3, showSymbol: true,
      itemStyle: {color: '#111'}, lineStyle: {color: '#222', width: 0.8}
    });
  });
});

// ---------- age panel ----------
const aTop = 1110, aHeight = 291.8;
const ag = grids.length;
grids.push({left: 73.3, top: aTop, width: 366, height: aHeight});
const axi = xAxes.length;
xAxes.push({gridIndex: ag, type: 'value', min: 0, max: 1, show: false});
const ayi = yAxes.length;
yAxes.push({
  gridIndex: ag, type: 'value', inverse: true, min: -100, max: 4210, position: 'left', z: 10,
  axisLine: {show: true, lineStyle: {color: '#333', width: 1.2}},
  axisTick: {show: true, length: 4, customValues: ageTicks, lineStyle: {color: '#333'}},
  axisLabel: {customValues: ageTicks, fontSize: 9.5, fontFamily: TICK, color: '#222', margin: 6,
              formatter: v => String(v)},
  splitLine: {show: false}
});
yAxes.push({
  gridIndex: ag, type: 'value', inverse: true, min: -75, max: 4210, position: 'right', z: 10,
  axisLine: {show: true, lineStyle: {color: '#444', width: 1}}, axisTick: {show: false}, axisLabel: {show: false},
  splitLine: {show: false}
});
addBands(ag, axi, ayi, ageBandTop, ageBandBottom, ageBandKind);
addUnitLabels(axi, ayi, unitAges, (420 - 73.3) / 366, 13, {Ie: -8, Id: 5});

function stepSeries(xi, yi, intervals) {
  const pts = [];
  intervals.forEach(([a, b, v]) => { pts.push([v, a]); pts.push([v, b]); });
  return {type: 'line', xAxisIndex: xi, yAxisIndex: yi, z: 4, silent: true, clip: false, symbol: 'none',
          data: pts, lineStyle: {color: '#111', width: 1.8}};
}

[[73.3, 153, 4.5, [1,2,3,4], [humidityUpper, humidityLower]],
 [229.5, 159.25, 3.5, [1,2,3], [marineUpper, marineLower]]].forEach(([left, width, max, ticks, parts]) => {
  const g = grids.length;
  grids.push({left, top: aTop, width, height: aHeight});
  const xi = xAxes.length;
  xAxes.push({
    gridIndex: g, type: 'value', min: 0, max, position: 'top', z: 10,
    axisLine: {show: true, onZero: false, lineStyle: {color: '#333', width: 1.2}},
    axisTick: {show: true, length: 4, customValues: ticks, lineStyle: {color: '#333'}},
    axisLabel: {customValues: ticks, fontSize: 9.5, fontFamily: TICK, color: '#222', margin: 6,
                formatter: v => String(v)},
    splitLine: {show: false}
  });
  const yi = yAxes.length;
  yAxes.push({gridIndex: g, type: 'value', inverse: true, min: -100, max: 4210, show: false});
  parts.forEach(part => series.push(stepSeries(xi, yi, part)));
});

// core unit column divider
graphic.push({type: 'line', z: 50, silent: true, shape: {x1: 400, y1: 1111, x2: 400, y2: aTop + aHeight},
              style: {stroke: '#444', lineWidth: 1}});

// ---------- texts ----------
// panel 1
text(244.5, 32.7, 'Aragonite [%]', 20);
text(561.7, 32.7, 'Dolomite [%]', 20);
text(135, 338.5, 'Sr/Ca', 20);
text(410, 338.5, 'Mg/Ca', 20);
text(683, 338.5, 'Mg-calcite [%]', 20);
// panel 2
supText(279, 371.5, 'δ', '13', 'C [‰]');
text(571.7, 370.7, 'TOC [%]', 20);
supText(136, 673, 'δ', '18', 'O [‰]');
text(420, 673, 'Ca/Ti', 20);
text(699, 673.3, 'TOC/TN', 20);
// panel 3
text(243.8, 708.3, 'Ti [ppm]', 20);
text(525, 708.3, 'Al [ppm]', 20);
text(117.5, 1020, 'Quartz [%]', 20);
text(375.3, 1020, 'Fe [ppm]', 20);
text(685.8, 1020, 'K [ppm]', 20);

[[181.7, 32, 832.5, 181.7], [518.3, 372, 832.5, 519], [860.8, 715, 832.5, 864]].forEach(([ySed, yCore, xAge, yAge]) => {
  text(35.5, ySed, 'Sediment depth [cm]', 20, {rot: Math.PI / 2});
  text(788, yCore, 'Core unit', 15, {rot: Math.PI / 4});
  text(xAge, yAge, 'Age [cal BP]', 20, {rot: -Math.PI / 2});
});

// age panel headers and scales
text(163.7, 1073.5, 'Relative humidity', 18);
text(323.3, 1052.3, 'Relative marine', 18);
text(323.3, 1073.5, 'influence', 18);
text(420, 1074.5, 'Core unit', 14);
text(23, 1253, 'Age [cal BP]', 20, {rot: Math.PI / 2});
text(245.8, 1242.7, 'Transition layer', 23, {family: "Lato, 'Open Sans', sans-serif", color: '#8a8a8a'});
humidityScale.forEach((s, i) => text(138.8, 1416.7 + i * 16.5, s, 16));
marineScale.forEach((s, i) => text(323.5, 1416.7 + i * 16.8, s, 16));

// interpretation legend
text(617, 1072, 'Palaeoenvironmental', 19, {bold: true});
text(617, 1098, 'interpretation', 19, {bold: true});
const boxTops = [1117, 1165, 1212, 1260, 1306, 1402];
legendKind.forEach((kind, i) => {
  graphic.push({type: 'rect', z: 40, silent: true,
    shape: {x: 498, y: boxTops[i], width: 296, height: boxTops[i + 1] - boxTops[i]},
    style: {fill: kind === 'transition' ? legendTransition : fills[kind]}});
  const lines = legendText[i];
  const step = lines.length > 2 ? 22.2 : 22;
  const first = kind === 'transition' ? 1321 : boxTops[i] + 12.3;
  lines.forEach((ln, j) => text(505, first + j * step, ln, 18, {italic: true, align: 'left'}));
});

const chart = echarts.init(document.getElementById('chart'), null, {renderer: 'canvas', width: 847, height: 1475});
chart.setOption({
  animation: false,
  backgroundColor: '#ffffff',
  grid: grids, xAxis: xAxes, yAxis: yAxes, series, graphic
});
</script>
</body>
</html>
